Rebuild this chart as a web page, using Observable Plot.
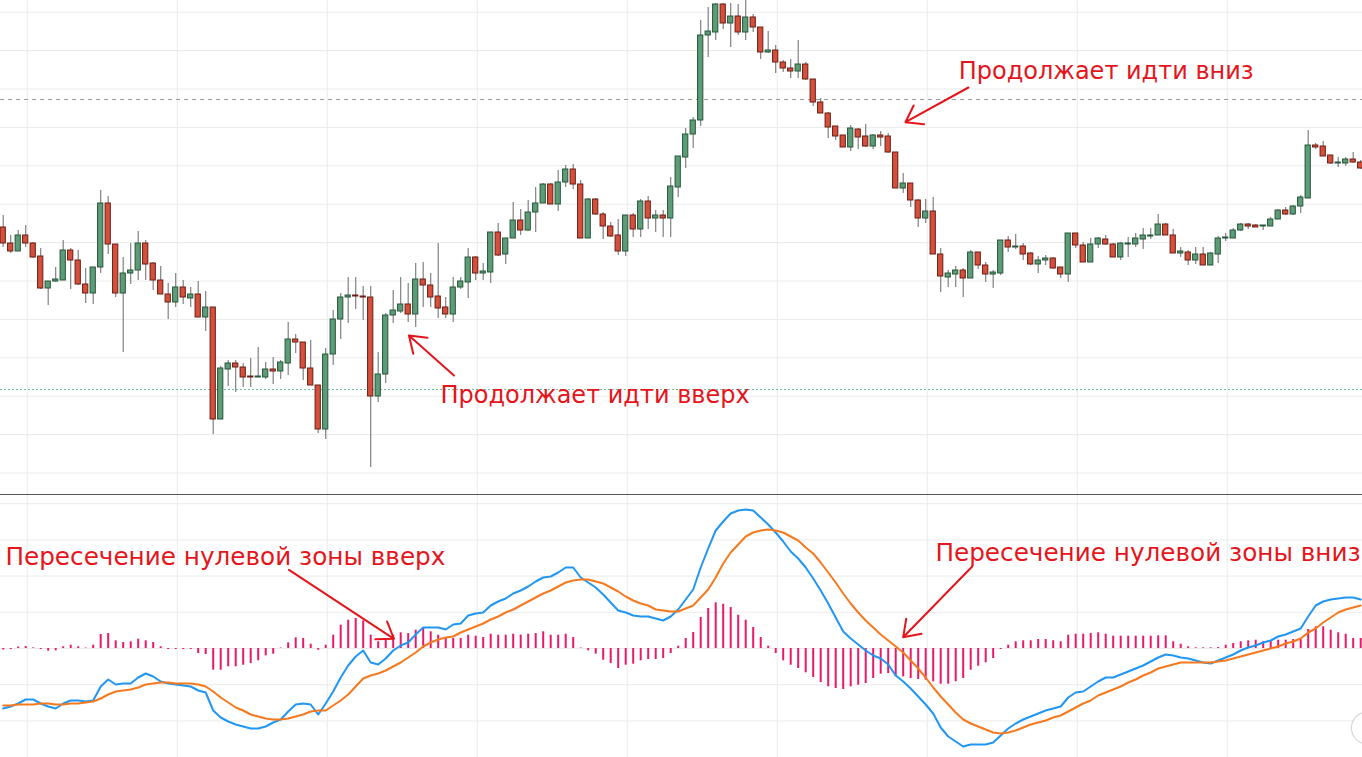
<!DOCTYPE html>
<html>
<head>
<meta charset="utf-8">
<script src="https://cdn.jsdelivr.net/npm/d3@7"></script>
<script src="https://cdn.jsdelivr.net/npm/@observablehq/plot@0.6"></script>
<style>
  html, body { margin: 0; padding: 0; background: #fff; overflow: hidden; }
  #wrap { width: 1362px; }
  #sep { height: 1px; background: #5a5a5a; }
  svg { display: block; }
</style>
</head>
<body>
<div id="wrap">
  <div id="pricePane"></div>
  <div id="sep"></div>
  <div id="macdPane"></div>
</div>
<script>
// ---- Candle data (price units, arbitrary scale) ----
const open = [273,257,249,265,257,244,212,219,220,250,
240,216,207,233,297,256,207,227,230,257,
237,220,206,198,213,202,206,183,193,81,
131,137,133,124,123,123,131,129,137,161,
158,132,115,71,146,181,203,205,204,203,
104,126,185,189,196,186,221,215,204,193,
186,213,218,243,227,228,268,246,262,280,
270,288,297,316,296,318,331,316,262,301,
286,274,265,249,285,271,299,282,285,282,
313,343,366,380,465,468,496,477,484,468,
483,473,448,450,438,432,429,436,421,398,
387,374,365,353,371,364,354,365,364,348,
312,317,300,282,289,246,223,226,230,222,
248,235,226,227,260,253,254,247,236,240,
242,233,226,267,255,238,256,261,256,243,
256,256,261,264,265,276,265,247,248,240,
246,235,246,262,262,270,276,275,274,274,
281,290,286,294,302,355,354,345,337,337,
341,338];
const high = [285,265,270,275,258,252,219,233,260,252,
250,232,233,310,304,256,243,257,269,260,
238,234,217,227,220,213,219,209,193,134,
140,140,137,142,153,138,143,140,178,166,
158,160,115,152,190,207,223,223,214,214,
148,187,210,223,217,237,238,227,257,203,
223,223,252,244,237,268,277,262,298,291,
300,313,317,317,330,335,336,320,302,302,
288,278,281,285,287,301,304,290,290,323,
344,372,383,480,493,497,497,497,496,500,
486,473,469,455,440,441,460,438,421,402,
388,374,365,375,372,376,366,369,367,348,
327,317,301,301,303,252,230,234,232,250,
248,238,230,260,264,266,257,248,244,245,
243,233,267,267,258,262,263,265,257,258,
263,267,272,272,286,277,271,253,250,253,
253,248,264,267,272,277,277,276,275,283,
291,293,295,305,370,357,359,345,343,343,
348,340];
const low = [253,247,249,253,242,211,195,218,220,211,
215,197,196,227,246,203,148,216,220,220,
210,206,181,193,196,193,183,169,66,81,
114,108,113,113,123,121,116,121,125,147,
120,115,67,61,135,161,177,191,180,33,
98,117,177,187,178,173,193,193,182,182,
178,211,202,220,220,217,244,236,262,265,
269,268,297,296,289,313,311,262,262,285,
261,263,245,244,263,263,271,268,263,263,
303,332,352,374,443,460,471,453,465,460,
468,441,447,427,428,422,422,420,394,387,
362,360,353,349,351,353,351,354,347,312,
307,293,273,277,246,208,213,213,203,222,
231,218,212,225,248,251,240,235,227,235,
231,222,218,252,238,238,252,255,243,240,
243,253,251,261,265,265,247,243,235,236,
235,235,237,259,262,269,271,273,270,274,
281,285,285,287,302,351,344,336,333,334,
337,331];
const close = [257,249,265,257,243,212,219,221,250,240,
216,207,233,297,256,207,227,230,257,236,
220,206,198,213,203,206,183,193,81,132,
137,133,123,123,124,131,129,138,161,158,
132,115,71,146,181,203,205,204,203,104,
126,185,190,196,186,221,215,203,192,186,
213,219,243,227,229,268,245,262,280,270,
288,297,316,296,318,331,316,262,301,286,
274,264,249,285,271,299,282,285,282,314,
344,366,380,465,469,496,477,484,468,483,
473,448,450,438,432,429,436,421,398,387,
373,364,353,372,363,354,365,363,348,312,
317,300,282,289,246,224,227,230,222,248,
235,226,228,260,253,254,246,236,240,242,
232,226,267,255,238,256,262,256,243,257,
257,262,265,265,276,265,247,249,240,246,
235,247,262,263,270,276,274,273,275,281,
290,286,294,303,355,353,344,337,338,341,
338,332];

// ---- MACD data ----
const macd = [-60,-58,-55,-51,-51,-55,-58,-60,-55,-52,
-52,-53,-52,-38,-31,-36,-35,-35,-29,-25,
-28,-33,-35,-36,-37,-38,-42,-44,-62,-69,
-73,-76,-78,-80,-80,-78,-74,-71,-63,-56,
-55,-56,-66,-55,-43,-29,-17,-8,-2,-14,
-16,-10,-2,3,6,14,21,21,21,19,
24,25,33,35,36,43,47,50,55,58,
62,67,71,72,76,81,81,71,66,61,
54,46,38,36,33,32,32,30,28,32,
39,49,59,81,100,118,127,135,138,139,
138,131,124,116,107,97,90,81,70,58,
45,31,17,10,4,-2,-7,-10,-16,-27,
-33,-40,-48,-56,-65,-79,-88,-93,-98,-96,
-96,-96,-94,-87,-80,-75,-71,-68,-65,-62,
-60,-58,-49,-44,-43,-38,-33,-29,-29,-26,
-23,-20,-17,-13,-9,-6,-7,-9,-10,-12,
-14,-15,-12,-9,-6,-2,1,3,6,8,
12,14,17,20,32,43,47,49,50,51,
51,49];
const signal = [-57,-57,-56,-56,-56,-55,-55,-56,-56,-55,
-55,-54,-53,-50,-46,-43,-42,-41,-39,-36,
-35,-34,-34,-35,-35,-35,-36,-38,-43,-49,
-54,-59,-62,-66,-68,-70,-71,-71,-70,-68,
-66,-63,-62,-62,-57,-52,-46,-38,-30,-27,
-25,-22,-18,-14,-9,-4,2,6,9,11,
12,16,19,22,25,29,32,36,39,43,
47,51,55,58,62,66,68,69,69,67,
65,61,57,52,48,45,43,39,38,37,
37,40,43,51,59,71,85,96,104,112,
116,118,119,118,116,112,108,101,95,86,
76,66,55,45,36,28,21,14,8,2,
-4,-12,-20,-29,-39,-48,-56,-64,-71,-75,
-78,-81,-84,-85,-84,-82,-79,-76,-74,-72,
-69,-67,-63,-59,-55,-52,-47,-44,-41,-38,
-34,-31,-27,-24,-20,-18,-16,-14,-14,-14,
-14,-14,-13,-12,-10,-8,-6,-4,-2,0,
2,5,7,10,16,20,26,31,36,39,
41,43];
const hist = [-1.5,-1,1.5,2,0.7,-1,-2.7,-2.3,1.7,3.3,
1.7,0.5,3.3,14,15,7.7,6,6.7,9.3,7.7,
6,1.7,-1,-1,-1,-1,-5,-6,-21.7,-21.7,
-18.3,-18.3,-16.7,-15,-12.3,-7.3,-5.7,0.5,5.7,10.7,
10,4.3,-1.7,3.3,13.3,23.3,28.3,30,27.7,13.3,
6.7,10,13.3,15.7,15,18.3,20,16.7,13.3,10,
10,10,13.3,12.3,11,14.3,13.3,13.3,14.3,13.3,
14.3,15,16.7,13.3,13.3,14.3,11,0.5,-2.3,-5.7,
-11.7,-15,-20,-16.7,-15.7,-12.3,-11,-11,-10,-5,
2.3,10,16,31,40,45.7,44.3,41,33.3,28.3,
21,11,2.3,-5,-12.3,-16.7,-20,-24.3,-29,-34,
-38.3,-40,-41,-38.3,-36.7,-35,-30,-25.7,-25,-28.3,
-28.3,-30,-31,-31.7,-33.3,-35.7,-35.7,-33.3,-30,-21.7,
-17.7,-14.3,-10,-1,3.3,6.7,7.7,7.7,9,9,
7.7,6.7,13.3,14.3,14.3,15,15.7,14.3,12.3,12.3,
12.3,12.3,12.3,12.3,12.7,12.7,6.7,4.3,1.7,0.7,
0.7,0.7,1,3.3,5,6.7,7.7,8.3,6.7,7.7,
8.3,8.3,9,10,19,21.7,21.7,18.3,15.7,14.3,
10,10];

// ---- grid / reference levels ----
const gridX = [3.2,23.2,43.2,63.2,83.2,103.2,123.2,143.2,163.2];
const gridYPrice = [488.3,449.9,411.5,373.1,334.7,296.3,257.9,219.5,181.1,142.7,104.3,65.9,27.5];
const dashedLevel = [401];
const dottedLevel = [111];
const gridYMacd = [144.8,108.6,72.4,36.2,0,-36.2,-72.4];
const cornerWidget = [{i: 181.9, v: -79.5}];

// ---- annotations ----
const notesTop = [
  {i: 127.4, p: 428.7, text: "Продолжает идти вниз"},
  {i: 58.3, p: 105.4, text: "Продолжает идти вверх"}
];
const arrowsTop = [
  {i1: 128.7, p1: 413, i2: 120.3, p2: 378.3},
  {i1: 60.1, p1: 125, i2: 54.1, p2: 165}
];
const notesMacd = [
  {i: 0.3, v: 91.7, text: "Пересечение нулевой зоны вверх"},
  {i: 124.3, v: 95.7, text: "Пересечение нулевой зоны вниз"}
];
const arrowsMacd = [
  {i1: 38.1, v1: 78.7, i2: 52.1, v2: 9.7},
  {i1: 129.2, v1: 82, i2: 120, v2: 11.3}
];

const GREEN = "#5d9c76", GREEN_B = "#24563a";
const RED = "#d4503c", RED_B = "#6a1c12";
const WICK = "#808080";
const GRID = "#ebebeb";
const ANN = "#e4151b";
const FONT = "DejaVu Sans";

const candles = open.map((o, i) => ({i, o, h: high[i], l: low[i], c: close[i]}));
const macdRows = macd.map((m, i) => ({i, m, s: signal[i], h: hist[i]}));
const xDomain = [-0.36, 181.24];
const halfW = 0.35;

const priceChart = Plot.plot({
  width: 1362, height: 494,
  margin: 0,
  x: {domain: xDomain, axis: null},
  y: {domain: [6, 500], axis: null},
  style: {background: "#fff", fontFamily: FONT},
  marks: [
    Plot.ruleX(gridX, {stroke: GRID, strokeWidth: 1}),
    Plot.ruleY(gridYPrice, {stroke: GRID, strokeWidth: 1}),
    Plot.ruleY(dashedLevel, {stroke: "#9a9a9a", strokeDasharray: "4,4", strokeWidth: 1}),
    Plot.ruleY(dottedLevel, {stroke: "#6dbf9f", strokeDasharray: "2,2", strokeWidth: 1}),
    Plot.ruleX(candles, {x: "i", y1: "l", y2: "h", stroke: WICK, strokeWidth: 1.2}),
    Plot.rect(candles, {
      x1: d => d.i - halfW, x2: d => d.i + halfW,
      y1: "o", y2: "c",
      fill: d => d.c >= d.o ? GREEN : RED,
      stroke: d => d.c >= d.o ? GREEN_B : RED_B,
      strokeWidth: 1
    }),
    Plot.arrow(arrowsTop, {x1: "i1", y1: "p1", x2: "i2", y2: "p2", stroke: ANN, strokeWidth: 2, headLength: 14, headAngle: 70}),
    Plot.text(notesTop, {x: "i", y: "p", text: "text", textAnchor: "start", fill: ANN, fontSize: 24, fontFamily: FONT})
  ]
});
document.getElementById("pricePane").appendChild(priceChart);

const macdChart = Plot.plot({
  width: 1362, height: 262,
  margin: 0,
  x: {domain: xDomain, axis: null},
  y: {domain: [-109, 153], axis: null},
  style: {background: "#fff", fontFamily: FONT},
  marks: [
    Plot.ruleX(gridX, {stroke: GRID, strokeWidth: 1}),
    Plot.ruleY(gridYMacd, {stroke: GRID, strokeWidth: 1}),
    Plot.ruleX(macdRows, {x: "i", y1: 0, y2: "h", stroke: "#e8196a", strokeWidth: 2}),
    Plot.line(macdRows, {x: "i", y: "m", stroke: "#2196f3", strokeWidth: 2}),
    Plot.line(macdRows, {x: "i", y: "s", stroke: "#f57a1f", strokeWidth: 2}),
    Plot.dot(cornerWidget, {x: "i", y: "v", r: 16, fill: "#fff", stroke: "#d6d6d6", strokeWidth: 1.2}),
    Plot.arrow(arrowsMacd, {x1: "i1", y1: "v1", x2: "i2", y2: "v2", stroke: ANN, strokeWidth: 2, headLength: 14, headAngle: 70}),
    Plot.text(notesMacd, {x: "i", y: "v", text: "text", textAnchor: "start", fill: ANN, fontSize: 24.7, fontFamily: FONT})
  ]
});
document.getElementById("macdPane").appendChild(macdChart);
</script>
</body>
</html>
